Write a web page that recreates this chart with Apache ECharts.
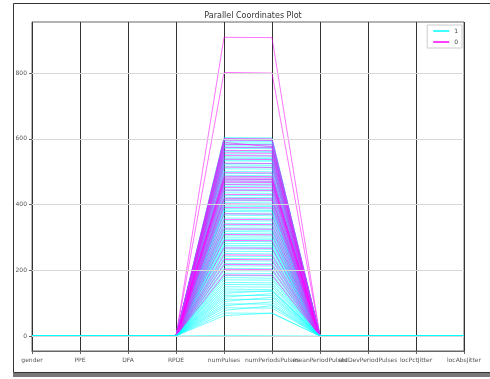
<!DOCTYPE html>
<html>
<head>
<meta charset="utf-8">
<script src="https://cdn.jsdelivr.net/npm/echarts@6/dist/echarts.min.js"></script>
<style>
  html, body { margin: 0; padding: 0; background: #fff; }
  #chart { width: 490px; height: 379px; }
</style>
</head>
<body>
<div id="chart"></div>
<script>
// columns of the dataset, in axis order
const columns = ["gender", "PPE", "DFA", "RPDE", "numPulses", "numPeriodsPulses",
  "meanPeriodPulses", "stdDevPeriodPulses", "locPctJitter", "locAbsJitter"];

const yTicks = [0, 200, 400, 600, 800];

// small-valued columns (flat at ~0 on this scale)
const before1 = [1, 0.80, 0.72, 0.42];
const after1 = [0.0067, 0.00008, 0.0021, 0.000015];
const before0 = [0, 0.78, 0.70, 0.48];
const after0 = [0.0062, 0.00011, 0.0028, 0.000019];

// class "1"
const pulses1 = [604, 600, 597, 593, 588, 584, 579, 575, 571, 563, 560, 552, 545, 541, 536,
  533, 525, 521, 515, 509, 501, 495, 489, 484, 478, 472, 466, 460, 455, 447, 442, 436, 428,
  422, 417, 412, 406, 399, 395, 388, 383, 379, 372, 368, 359, 351, 343, 336, 329, 323, 318,
  312, 305, 299, 294, 288, 282, 276, 271, 265, 258, 251, 243, 236, 229, 221, 214, 206, 199,
  191, 184, 178, 171, 163, 157, 150, 143, 137, 130, 124, 118, 112, 105, 98, 92, 86, 78, 70,
  62, 2];
const periods1 = [603, 599, 596, 592, 587, 583, 578, 574, 570, 562, 559, 550, 544, 540, 535,
  532, 524, 519, 514, 508, 500, 494, 488, 483, 476, 471, 465, 459, 454, 446, 441, 434, 427,
  421, 416, 411, 405, 398, 394, 387, 382, 378, 371, 366, 358, 350, 342, 335, 328, 322, 317,
  311, 304, 298, 293, 287, 281, 275, 270, 264, 257, 250, 242, 235, 228, 220, 213, 205, 198,
  190, 183, 176, 170, 162, 156, 149, 141, 136, 138, 123, 129, 111, 118, 97, 104, 85, 92, 69,
  70, 1];

// class "0"
const pulses0 = [909, 802, 601, 596, 589, 583, 574, 565, 557, 549, 538, 526, 514, 497, 486,
  481, 477, 472, 468, 461, 452, 444, 431, 419, 414, 402, 391, 372, 355, 340, 326, 309, 291,
  268, 247, 233, 218, 203, 186];
const periods0 = [908, 800, 600, 595, 576, 582, 573, 564, 556, 548, 537, 525, 513, 496, 485,
  480, 476, 471, 467, 460, 451, 443, 430, 418, 413, 401, 390, 371, 354, 339, 325, 308, 290,
  267, 246, 232, 217, 202, 185];

const COLOR_1 = "#00ffff";
const COLOR_0 = "#ff00ff";

function lineSeries(name, color, before, p, q, after) {
  return {
    name,
    type: "line",
    data: [...before, p, q, ...after],
    symbol: "none",
    silent: true,
    z: 3,
    color,
    lineStyle: { width: 1, color, opacity: 0.55 },
    itemStyle: { color },
  };
}

const series = [
  {
    // horizontal grid lines
    type: "line",
    data: [],
    z: 1,
    silent: true,
    markLine: {
      silent: true,
      symbol: "none",
      label: { show: false },
      lineStyle: { color: "#d8d8d8", width: 1, type: "solid" },
      data: yTicks.map((v) => ({ yAxis: v })),
    },
  },
];

// rows are drawn interleaved, as they come in the dataset
let i1 = 0;
let i0 = 0;
while (i1 < pulses1.length || i0 < pulses0.length) {
  if (i0 < pulses0.length) { series.push(lineSeries("0", COLOR_0, before0, pulses0[i0], periods0[i0], after0)); i0++; }
  for (let k = 0; k < 2 && i1 < pulses1.length; k++, i1++) {
    series.push(lineSeries("1", COLOR_1, before1, pulses1[i1], periods1[i1], after1));
  }
}

const chart = echarts.init(document.getElementById("chart"), null, { renderer: "canvas" });
chart.setOption({
  animation: false,
  textStyle: { fontFamily: "DejaVu Sans" },
  title: {
    text: "Parallel Coordinates Plot",
    left: 248,
    top: 7,
    textAlign: "center",
    textStyle: { fontSize: 8, fontWeight: "normal", color: "#333", fontFamily: "DejaVu Sans" },
  },
  legend: {
    data: [
      { name: "1", icon: "rect", itemStyle: { color: COLOR_1 } },
      { name: "0", icon: "rect", itemStyle: { color: COLOR_0 } },
    ],
    orient: "vertical",
    right: 28,
    top: 25,
    itemWidth: 16,
    itemHeight: 1.5,
    itemGap: 5,
    padding: [3, 4, 3, 6],
    borderColor: "#ccc",
    borderWidth: 1,
    backgroundColor: "rgba(255,255,255,0.85)",
    textStyle: { fontSize: 6, color: "#444", fontFamily: "DejaVu Sans" },
  },
  grid: { left: 32, right: 26, top: 22, bottom: 28, show: true, borderColor: "#666", borderWidth: 1 },
  xAxis: {
    type: "category",
    data: columns,
    boundaryGap: false,
    axisLine: { onZero: false, lineStyle: { color: "#666" } },
    axisTick: { show: true, length: 3, lineStyle: { color: "#666" } },
    axisLabel: { interval: 0, hideOverlap: false, fontSize: 6, color: "#555", margin: 6 },
    splitLine: { show: true, lineStyle: { color: "#333", width: 1 } },
  },
  yAxis: {
    type: "value",
    min: -45.5,
    max: 955.5,
    axisLine: { show: false },
    axisTick: { show: true, length: 3, customValues: yTicks, lineStyle: { color: "#666" } },
    axisLabel: { fontSize: 6, color: "#555", margin: 5, customValues: yTicks },
    splitLine: { show: false },
  },
  graphic: [
    { type: "rect", shape: { x: 13.5, y: 3.5, width: 490, height: 369 }, style: { fill: "none", stroke: "#333", lineWidth: 1 }, silent: true },
    { type: "rect", shape: { x: 13, y: 373, width: 477, height: 4 }, style: { fill: "#777" }, silent: true },
  ],
  series,
});
</script>
</body>
</html>
